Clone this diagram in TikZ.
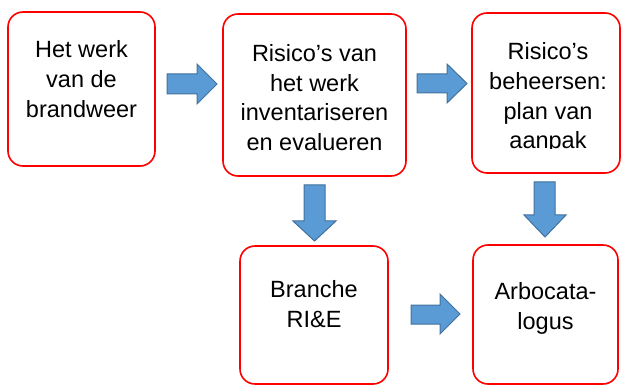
\documentclass[tikz,border=0pt]{standalone}
\usepackage{fontspec}
\setmainfont{Liberation Sans}
\definecolor{arrowblue}{HTML}{5B9BD5}
\definecolor{arrowedge}{HTML}{41719C}
\definecolor{boxred}{HTML}{FF0000}
\begin{document}
\begin{tikzpicture}[x=1pt,y=-1pt,
  box/.style={draw=boxred, line width=1.6pt, rounded corners=15pt, fill=white, inner sep=0pt},
  txt/.style={align=center, inner sep=0pt, anchor=north, font=\fontsize{23.5}{29.8}\selectfont},
  blockarrow/.style={fill=arrowblue, draw=arrowedge, line width=1pt, line join=miter}]
\useasboundingbox (0,0) rectangle (623,387);
% boxes
\node[box, minimum width=147pt, minimum height=154pt] (b1) at (81.5,89) {};
\node[box, minimum width=183pt, minimum height=162pt] (b2) at (314.5,95) {};
\node[box, minimum width=148pt, minimum height=160pt] (b3) at (546,93) {};
\node[box, minimum width=148pt, minimum height=138pt] (b4) at (314,315) {};
\node[box, minimum width=145pt, minimum height=139pt] (b5) at (545.5,314.5) {};
% texts
\node[txt] (t1) at (81.5,40.3) {Het werk\\van de\\brandweer};
\node[txt] (t2) at (314.5,44) {Risico’s van\\het werk\\inventariseren\\en evalueren};
\begin{scope}
  \clip (471,12) rectangle (621,148.5);
  \node[txt] (t3) at (548,42.3) {Risico’s\\beheersen:\\plan van\\aanpak};
\end{scope}
\node[txt] (t4) at (314,280.7) {Branche\\RI\&E};
\node[txt] (t5) at (545.5,282.3) {Arbocata-\\logus};
% block arrows
\draw[blockarrow] (167,74) -- (197,74) -- (197,64) -- (217,84) -- (197,104) -- (197,94) -- (167,94) -- cycle;
\draw[blockarrow] (417,74) -- (447,74) -- (447,64) -- (467,83.5) -- (447,103) -- (447,93) -- (417,93) -- cycle;
\draw[blockarrow] (411,305) -- (440,305) -- (440,294) -- (460,314) -- (440,334) -- (440,324) -- (411,324) -- cycle;
\draw[blockarrow] (304,185) -- (325,185) -- (325,221) -- (336,221) -- (314.5,241) -- (293,221) -- (304,221) -- cycle;
\draw[blockarrow] (534,182) -- (555,182) -- (555,215) -- (566,215) -- (545,237) -- (524,215) -- (534,215) -- cycle;
\end{tikzpicture}
\end{document}
